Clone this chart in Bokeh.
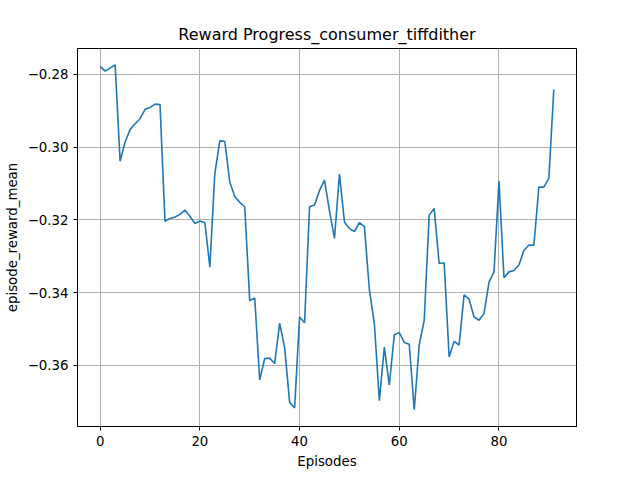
from bokeh.plotting import figure
from bokeh.models import Range1d, FixedTicker
from bokeh.embed import file_html
from bokeh.resources import INLINE

episodes = list(range(92))
reward_mean = [
    -0.2778, -0.2791, -0.2783, -0.2774, -0.3039, -0.2986, -0.2952, -0.2936, -0.2922, -0.2896,
    -0.2891, -0.2882, -0.2883, -0.3204, -0.3196, -0.3192, -0.3185, -0.3173, -0.3190, -0.3210,
    -0.3203, -0.3207, -0.3330, -0.3072, -0.2983, -0.2984, -0.3096, -0.3136, -0.3152, -0.3164,
    -0.3422, -0.3415, -0.3640, -0.3581, -0.3580, -0.3595, -0.3484, -0.3551, -0.3701, -0.3717,
    -0.3467, -0.3483, -0.3164, -0.3159, -0.3119, -0.3091, -0.3176, -0.3251, -0.3074, -0.3206,
    -0.3224, -0.3232, -0.3208, -0.3218, -0.3392, -0.3485, -0.3697, -0.3550, -0.3654, -0.3516,
    -0.3510, -0.3537, -0.3542, -0.3722, -0.3544, -0.3476, -0.3187, -0.3169, -0.3320, -0.3318,
    -0.3577, -0.3534, -0.3544, -0.3406, -0.3418, -0.3467, -0.3476, -0.3457, -0.3371, -0.3343,
    -0.3093, -0.3359, -0.3343, -0.3339, -0.3324, -0.3284, -0.3269, -0.3270, -0.3110, -0.3110,
    -0.3086, -0.2842,
]
x_ticks = [0, 20, 40, 60, 80]
y_ticks = [-0.36, -0.34, -0.32, -0.30, -0.28]

p = figure(width=624, height=471, output_backend="svg", toolbar_location=None,
           title="Reward Progress_consumer_tiffdither",
           x_range=Range1d(-4.55, 95.55), y_range=Range1d(-0.3768, -0.2729),
           min_border_left=77, min_border_right=48, min_border_top=48, min_border_bottom=45)
p.title.align = "center"
p.title.text_font = "DejaVu Sans"
p.title.text_font_size = "12pt"
p.title.text_font_style = "normal"
p.title.text_color = "black"

p.line(episodes, reward_mean, line_color="#1f77b4", line_width=1.6)

p.xaxis.axis_label = "Episodes"
p.yaxis.axis_label = "episode_reward_mean"
p.xaxis.ticker = FixedTicker(ticks=x_ticks)
p.yaxis.ticker = FixedTicker(ticks=y_ticks)
p.yaxis.major_label_overrides = {t: f"{t:.2f}".replace("-", "\u2212") for t in y_ticks}
for ax in (p.xaxis[0], p.yaxis[0]):
    ax.axis_label_text_font = "DejaVu Sans"
    ax.axis_label_text_font_size = "10pt"
    ax.axis_label_text_font_style = "normal"
    ax.axis_label_text_color = "black"
    ax.major_label_text_font = "DejaVu Sans"
    ax.major_label_text_font_size = "10pt"
    ax.major_label_text_color = "black"
    ax.minor_tick_line_color = None
    ax.major_tick_out = 4
    ax.major_tick_in = 0
    ax.axis_line_color = "black"
    ax.major_tick_line_color = "black"
p.grid.grid_line_color = "#b0b0b0"
p.grid.grid_line_alpha = 1.0
p.outline_line_color = "black"

open("out.html", "w").write(file_html(p, INLINE))
